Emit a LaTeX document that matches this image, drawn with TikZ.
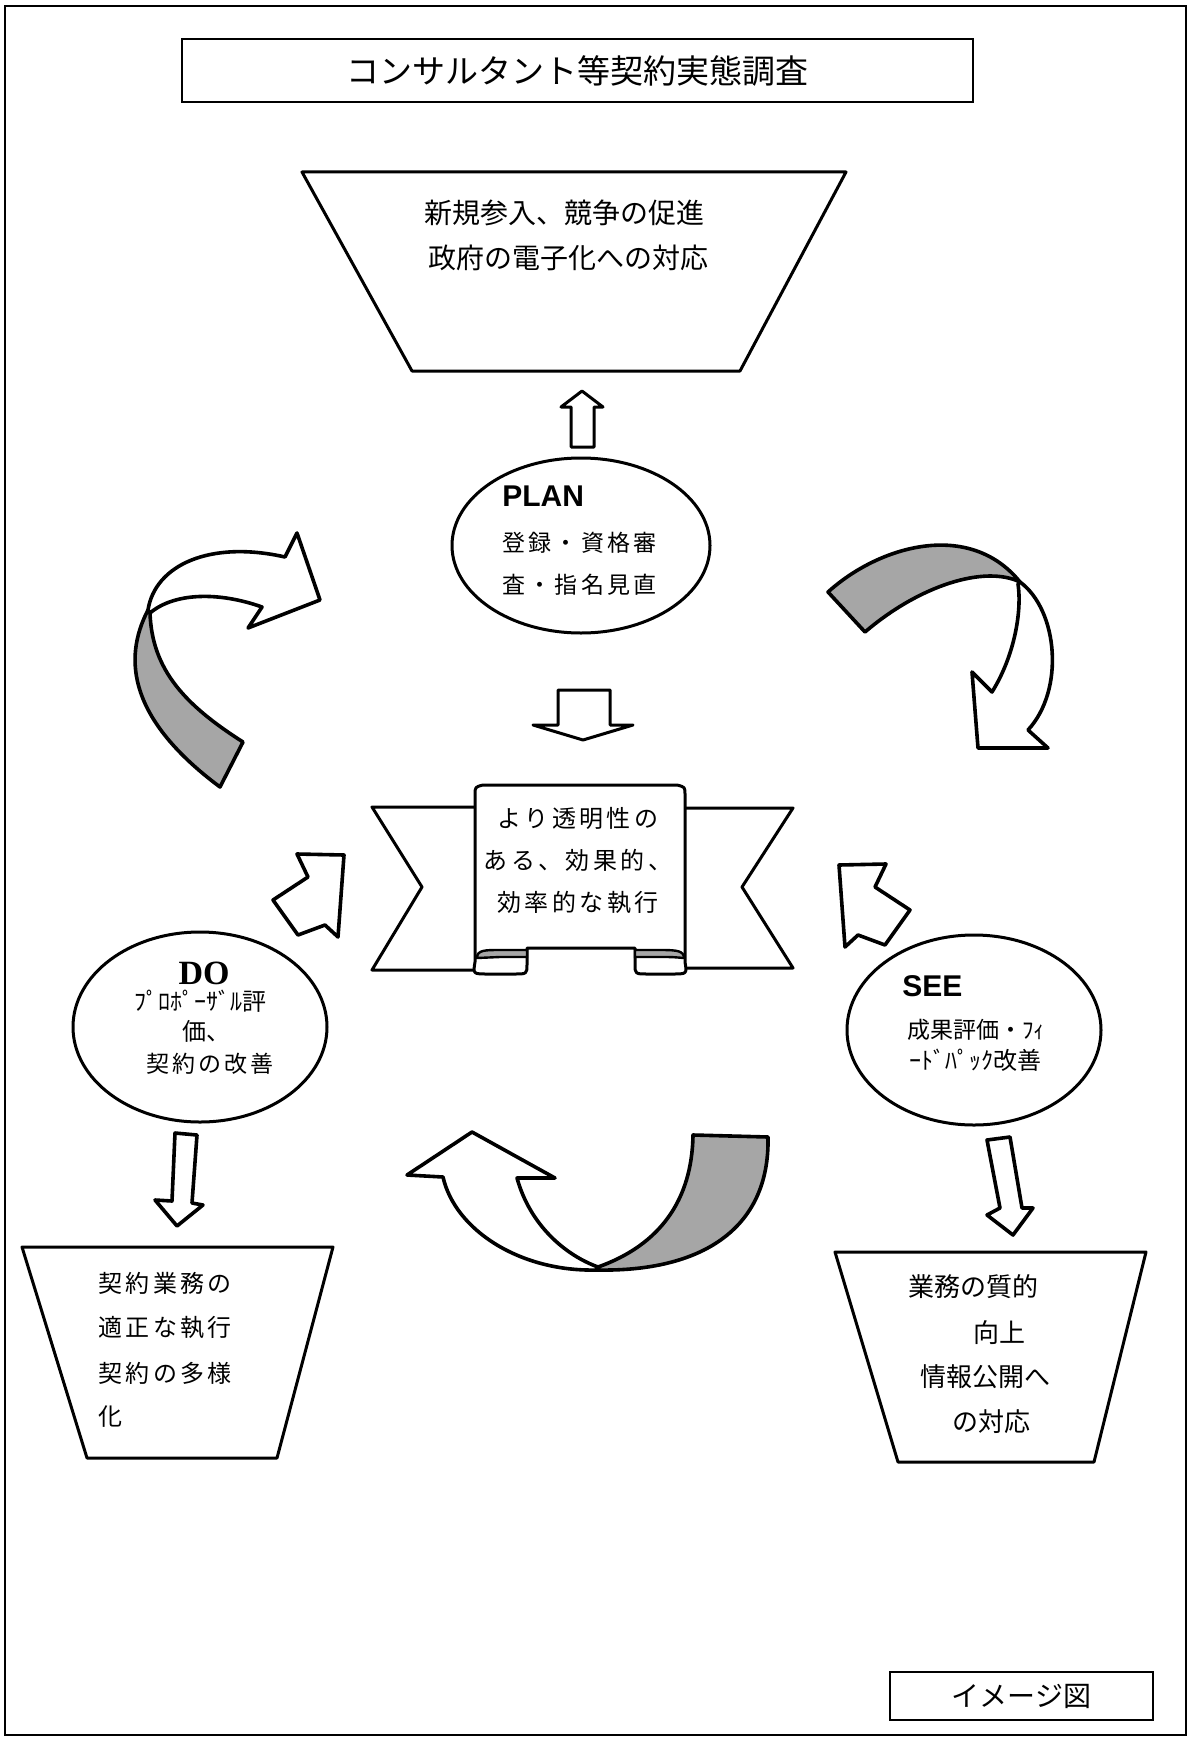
\documentclass[tikz,border=0pt]{standalone}
\usepackage{fontspec}
\setmainfont{Liberation Serif}
\newfontfamily\jp{Noto Sans CJK JP}
\newfontfamily\jpw[LetterSpace=14]{Noto Sans CJK JP}
\newfontfamily\hel{Liberation Sans}
\usetikzlibrary{shapes.geometric}
\begin{document}
\begin{tikzpicture}[x=0.5pt,y=-0.5pt,
  shp/.style={draw=black,line width=1.5pt,fill=white,line join=round},
  blk/.style={draw=black,line width=1.8pt,fill=white,line join=round},
  shd/.style={draw=black,line width=1.8pt,fill=black!35,line join=round},
  jt/.style={font=\jp\fontsize{#1}{#1}\selectfont,inner sep=0pt},
  jw/.style={font=\jpw\fontsize{#1}{#1}\selectfont,inner sep=0pt},
  ht/.style={font=\hel\bfseries\fontsize{#1}{#1}\selectfont,inner sep=0pt},
  ell/.style={draw=black,ellipse,line width=1.5pt,fill=white,inner sep=0pt}]
\useasboundingbox (0,0) rectangle (1189,1739);
\fill[white] (0,0) rectangle (1189,1739);
% page frame
\draw[line width=1pt] (5,6) rectangle (1186,1735);
% title
\node[draw,line width=1.3pt,minimum width=395.5pt,minimum height=31.5pt,inner sep=0pt,
      font=\jp\fontsize{16.5}{16.5}\selectfont] (title) at (577.5,70.5) {コンサルタント等契約実態調査};
% top trapezoid
\draw[shp] (302,172) -- (846,172) -- (740,371) -- (412,371) -- cycle;
\node[jt=14] (top1) at (564,213) {新規参入、競争の促進};
\node[jt=14] (top2) at (568,258) {政府の電子化への対応};
% up arrow
\draw[shp] (571,447) -- (571,407) -- (561,407) -- (582,391) -- (603,407) -- (594,407) -- (594,447) -- cycle;
% PLAN
\node[ell,minimum width=129pt,minimum height=87.5pt] (plan) at (581,545.5) {};
\node[ht=15,anchor=west] (plan0) at (502,496) {PLAN};
\node[jw=11.5,anchor=west] (plan1) at (502,543) {登録・資格審};
\node[jw=11.5,anchor=west] (plan2) at (502,585) {査・指名見直};
% down arrow
\draw[shp] (558,690) -- (610,690) -- (610,725) -- (633,725) -- (583,740) -- (533,725) -- (558,725) -- cycle;
% banner
\draw[shp] (480,807) -- (372,807) -- (422,887) -- (372,970) -- (480,970) -- cycle;
\draw[shp] (680,808) -- (793,808) -- (742,887) -- (793,968) -- (680,968) -- cycle;
\draw[shp] (475,795) .. controls (475,787) .. (483,785) -- (677,785) .. controls (685,787) .. (685,795)
  -- (685,962) .. controls (687,974) .. (672,974) -- (648,974) .. controls (635,974) .. (635,964)
  -- (635,948) -- (527,948) -- (527,964) .. controls (527,974) .. (514,974) -- (488,974)
  .. controls (473,974) .. (475,962) -- cycle;
\draw[line width=1.2pt,fill=black!35] (477,958) .. controls (477,950) and (485,950) .. (500,950)
  -- (527,950) -- (527,957) -- (500,957) .. controls (488,957) .. (477,958) -- cycle;
\draw[line width=1.2pt,fill=black!35] (635,950) -- (662,950) .. controls (677,950) and (684,951) .. (684,958)
  .. controls (672,957) .. (662,957) -- (635,957) -- cycle;
\node[jw=12] (ban1) at (578,818) {より透明性の};
\node[jw=12] (ban2) at (578,860) {ある、効果的、};
\node[jw=12] (ban3) at (578,903) {効率的な執行};
% left curved arrow (DO -> PLAN)
\draw[shd] (148,610) .. controls (122,660) and (130,720) .. (220,787) -- (243,742)
  .. controls (185,705) and (152,670) .. (150,613) -- cycle;
\draw[blk] (148,610) .. controls (155,565) and (210,540) .. (285,557) -- (297,533) -- (320,600)
  -- (248,628) -- (262,607) .. controls (220,592) and (175,592) .. (150,613) -- cycle;
% right curved arrow (PLAN -> SEE)
\draw[shd] (828,592) .. controls (880,545) and (970,520) .. (1020,582)
  .. controls (985,565) and (920,585) .. (865,632) -- cycle;
\draw[blk] (1020,582) .. controls (1058,610) and (1065,690) .. (1028,730) -- (1048,748) -- (978,748)
  -- (972,672) -- (992,692) .. controls (1015,655) and (1022,610) .. (1018,584) -- cycle;
% bottom curved arrow (SEE -> DO)
\draw[shd] (693,1135) -- (768,1137) .. controls (770,1230) and (700,1272) .. (597,1270)
  -- (598,1267) .. controls (660,1245) and (692,1200) .. (693,1135) -- cycle;
\draw[blk] (597,1270) .. controls (520,1272) and (455,1230) .. (443,1177) -- (407,1175) -- (472,1132)
  -- (555,1178) -- (517,1178) .. controls (530,1225) and (565,1255) .. (598,1267) -- cycle;
% small arrows to banner
\draw[blk] (344,855) -- (297,854) -- (308,877) -- (273,900) -- (298,935) -- (325,925) -- (338,937) -- cycle;
\draw[blk] (839,865) -- (886,864) -- (875,887) -- (910,910) -- (885,945) -- (858,935) -- (845,947) -- cycle;
% DO
\node[ell,minimum width=127pt,minimum height=95pt] (do) at (200,1027) {};
\node[font=\bfseries\fontsize{17}{17}\selectfont,inner sep=0pt] (do0) at (204,973) {DO};
\node[jt=12] (do1) at (200,1001) {ﾌﾟﾛﾎﾟｰｻﾞﾙ評};
\node[jt=12] (do2) at (206,1031) {価、};
\node[jw=11.5] (do3) at (210,1064) {契約の改善};
% SEE
\node[ell,minimum width=127pt,minimum height=95pt] (see) at (974,1030) {};
\node[ht=15,anchor=west] (see0) at (902,986) {SEE};
\node[jt=11.5,anchor=west] (see1) at (907,1030) {成果評価・ﾌｨ};
\node[jt=12,anchor=west] (see2) at (909,1060) {ｰﾄﾞﾊﾟｯｸ改善};
% down arrows to outcomes
\draw[blk] (175,1133) -- (197,1135) -- (192,1203) -- (203,1205) -- (177,1226) -- (155,1200) -- (172,1201) -- cycle;
\draw[blk] (987,1140) -- (1010,1137) -- (1022,1208) -- (1033,1208) -- (1013,1235) -- (987,1215) -- (1000,1208) -- cycle;
% bottom-left trapezoid
\draw[shp] (22,1247) -- (333,1247) -- (277,1458) -- (87,1458) -- cycle;
\node[jw=12,anchor=west] (bl1) at (98,1283) {契約業務の};
\node[jw=12,anchor=west] (bl2) at (98,1328) {適正な執行};
\node[jw=12,anchor=west] (bl3) at (98,1373) {契約の多様};
\node[jw=12,anchor=west] (bl4) at (98,1417) {化};
% bottom-right trapezoid
\draw[shp] (835,1252) -- (1146,1252) -- (1094,1462) -- (898,1462) -- cycle;
\node[jt=13,anchor=west] (br1) at (908,1287) {業務の質的};
\node[jt=13,anchor=west] (br2) at (973,1333) {向上};
\node[jt=13,anchor=west] (br3) at (920,1377) {情報公開へ};
\node[jt=13,anchor=west] (br4) at (952,1422) {の対応};
% label
\node[draw,line width=1.3pt,minimum width=131.5pt,minimum height=24pt,inner sep=0pt,
      font=\jp\fontsize{14}{14}\selectfont] (lbl) at (1021.5,1696) {イメージ図};
\end{tikzpicture}
\end{document}
